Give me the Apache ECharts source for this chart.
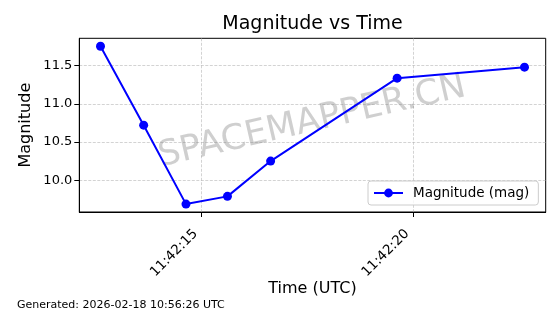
<!DOCTYPE html>
<html>
<head>
<meta charset="utf-8">
<script src="https://cdn.jsdelivr.net/npm/echarts@6/dist/echarts.min.js"></script>
<style>
html,body{margin:0;padding:0;background:#fff;}
#c{width:560px;height:314px;}
</style>
</head>
<body>
<div id="c"></div>
<script>
// ---- data ----
var times = ["11:42:12.62", "11:42:13.64", "11:42:14.64", "11:42:15.62", "11:42:16.64", "11:42:19.63", "11:42:22.64"];
var magnitudes = [11.752, 10.72, 9.689, 9.79, 10.251, 11.334, 11.478];
var xTickLabels = ["11:42:15", "11:42:20"];
var yTickValues = [10.0, 10.5, 11.0, 11.5];
var seriesName = "Magnitude (mag)";

function toSec(t) {
  var p = t.split(":");
  return (+p[0]) * 3600 + (+p[1]) * 60 + parseFloat(p[2]);
}
function fmt(s) {
  var h = Math.floor(s / 3600), m = Math.floor((s % 3600) / 60), ss = Math.round(s % 60);
  function pad(n){return (n < 10 ? "0" : "") + n;}
  return pad(h) + ":" + pad(m) + ":" + pad(ss);
}
var xTickValues = xTickLabels.map(toSec);
var data = times.map(function (t, i) { return [toSec(t), magnitudes[i]]; });

var xs = data.map(function(d){return d[0];});
var ys = data.map(function(d){return d[1];});
var xmin = Math.min.apply(null, xs), xmax = Math.max.apply(null, xs);
var ymin = Math.min.apply(null, ys), ymax = Math.max.apply(null, ys);
var xm = (xmax - xmin) * 0.05, ym = (ymax - ymin) * 0.05;

var FONT = "DejaVu Sans";
var gridLine = { show: true, lineStyle: { color: "rgba(176,176,176,0.7)", width: 0.8, type: [3, 1.5] } };

var chart = echarts.init(document.getElementById("c"), null, { renderer: "canvas" });
chart.setOption({
  animation: false,
  backgroundColor: "#fff",
  textStyle: { fontFamily: FONT },
  grid: { left: 79.3, right: 14.3, top: 38.3, bottom: 102, show: true, borderColor: "#000", borderWidth: 1, backgroundColor: "transparent", containLabel: false },
  xAxis: {
    type: "value",
    min: xmin - xm, max: xmax + xm,
    name: "Time (UTC)", nameLocation: "middle", nameGap: 69, nameMoveOverlap: false,
    nameTextStyle: { fontFamily: FONT, fontSize: 16, color: "#000" },
    axisLine: { show: true, lineStyle: { color: "#000", width: 1 } },
    axisTick: { show: true, length: 5, lineStyle: { color: "#000" }, customValues: xTickValues },
    axisLabel: { customValues: xTickValues, rotate: 45, margin: 14, padding: [0, 8, 0, 0], fontFamily: FONT, fontSize: 13.5, color: "#000", formatter: function (v) { return fmt(v); } },
    splitLine: gridLine
  },
  yAxis: {
    type: "value",
    min: ymin - ym, max: ymax + ym,
    name: "Magnitude", nameLocation: "middle", nameGap: 45, nameRotate: 90, nameMoveOverlap: false,
    nameTextStyle: { fontFamily: FONT, fontSize: 16, color: "#000" },
    axisLine: { show: true, lineStyle: { color: "#000", width: 1 } },
    axisTick: { show: true, length: 5, lineStyle: { color: "#000" }, customValues: yTickValues },
    axisLabel: { customValues: yTickValues, margin: 7, fontFamily: FONT, fontSize: 13, color: "#000", formatter: function (v) { return v.toFixed(1); } },
    splitLine: gridLine
  },
  legend: {
    left: 368, top: 181,
    padding: [5, 9, 5, 5],
    itemWidth: 29, itemHeight: 11,
    backgroundColor: "rgba(255,255,255,0.8)",
    borderColor: "#cccccc", borderWidth: 1, borderRadius: 3,
    textStyle: { fontFamily: FONT, fontSize: 13.5, color: "#000", padding: [0, 0, 0, 5] },
    data: [seriesName]
  },
  series: [{
    name: seriesName,
    type: "line",
    data: data,
    symbol: "circle",
    symbolSize: 9,
    lineStyle: { color: "#0000ff", width: 2 },
    itemStyle: { color: "#0000ff" },
    z: 3
  }],
  graphic: [
    { type: "text", x: 312.5, y: 24, style: { text: "Magnitude vs Time", fontFamily: FONT, fontSize: 19, fill: "#000", textAlign: "center", textVerticalAlign: "middle" } },
    { type: "text", x: 312, y: 122, rotation: 13 * Math.PI / 180, z: 1, style: { text: "SPACEMAPPER.CN", fontFamily: FONT, fontSize: 35, fill: "rgba(128,128,128,0.38)", textAlign: "center", textVerticalAlign: "middle" } },
    { type: "text", x: 17, y: 305.5, style: { text: "Generated: 2026-02-18 10:56:26 UTC", fontFamily: FONT, fontSize: 11, fill: "#000", textAlign: "left", textVerticalAlign: "middle" } }
  ]
});
</script>
</body>
</html>
